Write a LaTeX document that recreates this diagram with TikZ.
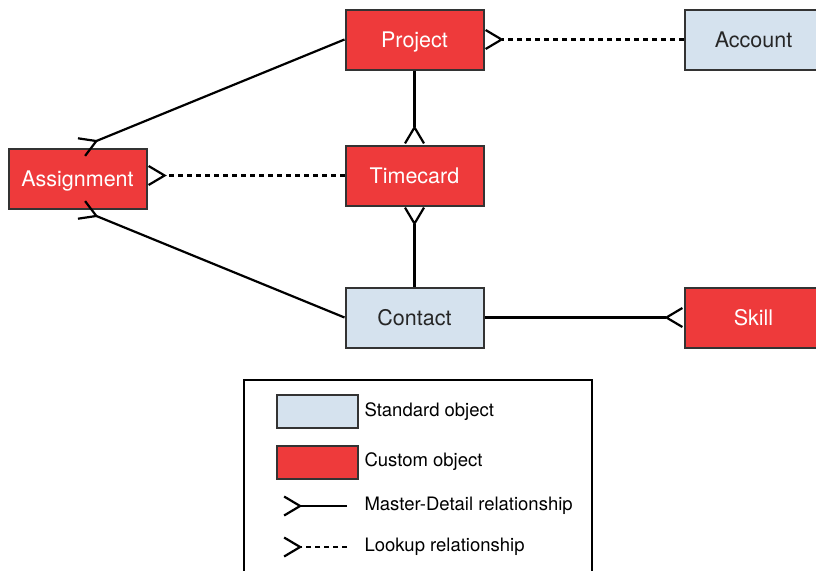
\documentclass[tikz,border=0pt]{standalone}
\usepackage{fontspec}
\setmainfont{TeX Gyre Heros}
\usetikzlibrary{positioning,arrows.meta}
\definecolor{objred}{HTML}{EE3A3B}
\definecolor{objblue}{HTML}{D5E2EE}

\begin{document}
\begin{tikzpicture}[auto,node distance=1.5cm]
	\tikzset{obj/.style={draw=black!80,line width=2pt,minimum width=138pt,minimum height=60pt,text height=15.5pt,text depth=0pt,font=\fontsize{21.5}{24}\selectfont}}
	\tikzset{custom/.style={obj,fill=objred,text=white}}
	\tikzset{standard/.style={obj,fill=objblue,text=black!85}}
	\tikzset{md/.style={line width=2.2pt,-{Straight Barb[reversed,length=16pt,width=19pt,line join=miter]}}}
	\tikzset{lk/.style={md,dash pattern=on 5pt off 4pt}}
	\tikzset{keytext/.style={font=\fontsize{18.5}{22}\selectfont,anchor=west}}
	\useasboundingbox (0pt,0pt) rectangle (816pt,-570pt);
		\node[custom] (project) at (414.5pt,-39.5pt) {Project};
		\node[custom, below=74pt of project] (timecard) {Timecard};
		\node[standard, below=80pt of timecard] (contact) {Contact};
		\node[custom, left=197pt of timecard, yshift=-3pt] (assignment) {Assignment};
		\node[standard, right=199pt of project] (account) {Account};
		\node[custom, right=199pt of contact] (skill) {Skill};
			\draw[md] (project.west) -- ([xshift=3pt]assignment.north);
			\draw[md] (contact.west) -- ([xshift=3pt]assignment.south);
			\draw[lk] (timecard.west) -- (timecard.west -| assignment.east);
			\draw[md] (project) -- (timecard);
			\draw[md] (contact) -- (timecard);
			\draw[lk] (account) -- (project);
			\draw[md] (contact) -- (skill);
		% legend
		\node[draw=black, line width=2pt, minimum width=348pt, minimum height=210pt, anchor=north west] (legend) at (243pt,-379pt) {};
		\node[standard, minimum width=81pt, minimum height=33pt, anchor=north west] (stdkey) at (276pt,-394pt) {};
		\node[custom, minimum width=81pt, minimum height=33pt, below=16pt of stdkey] (custkey) {};
		\node[keytext] (stdtext) at (361pt,-412pt) {Standard object};
		\node[keytext] (custtext) at (361pt,-462pt) {Custom object};
		\coordinate (mdA) at (283pt,-506pt);
		\coordinate (mdB) at (347pt,-506pt);
		\coordinate (lkA) at (283pt,-547pt);
		\coordinate (lkB) at (347pt,-547pt);
			\draw[md] (mdB) -- (mdA);
			\draw[lk] (lkB) -- (lkA);
		\node[keytext] (mdtext) at (361pt,-506pt) {Master-Detail relationship};
		\node[keytext] (lktext) at (361pt,-547pt) {Lookup relationship};
\end{tikzpicture}
\end{document}
